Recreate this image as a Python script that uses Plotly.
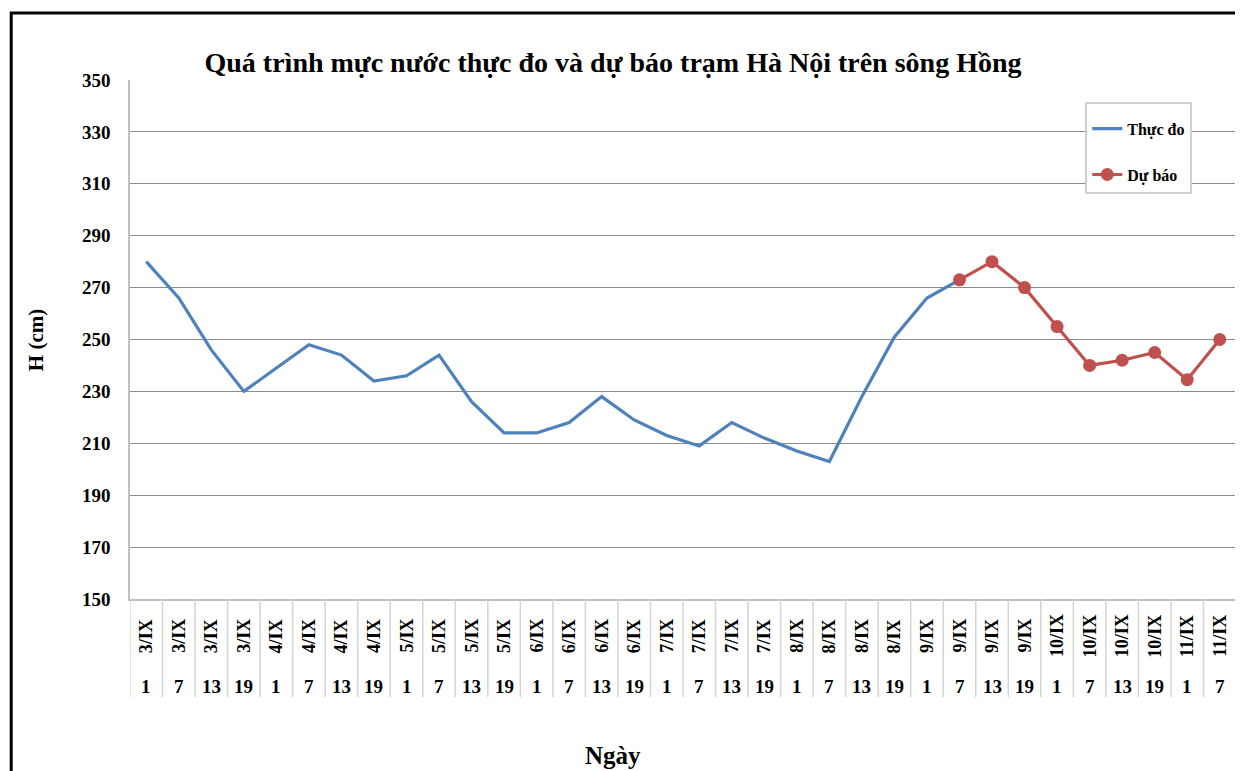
import plotly.graph_objects as go

dates = (["3/IX"] * 4 + ["4/IX"] * 4 + ["5/IX"] * 4 + ["6/IX"] * 4 + ["7/IX"] * 4
         + ["8/IX"] * 4 + ["9/IX"] * 4 + ["10/IX"] * 4 + ["11/IX"] * 2)
hours = ["1", "7", "13", "19"] * 8 + ["1", "7"]

observed = [280, 266, 246, 230, 239, 248, 244, 234, 236, 244, 226, 214, 214, 218,
            228, 219, 213, 209, 218, 212, 207, 203, 228, 251, 266, 273]
forecast_start = 25
forecast = [273, 280, 270, 255, 240, 242, 245, 234.5, 250]

OFF = 8  # page body margin
W, H = 1243 - OFF, 771 - OFF
L, R, T, B = 130 - OFF, 1238 - OFF, 80 - OFF, 599 - OFF
pw, ph = R - L, B - T

def py(p):
    """reference screenshot pixel row -> paper y"""
    return (B - (p - OFF)) / ph

def px(p):
    """reference screenshot pixel column -> paper x"""
    return ((p - OFF) - L) / pw

FONT = "Liberation Serif"
n = len(dates)
x_obs = list(range(len(observed)))
x_fc = list(range(forecast_start, forecast_start + len(forecast)))

fig = go.Figure()
fig.add_trace(go.Scatter(x=x_obs, y=observed, mode="lines", name="Thực đo",
                         line=dict(color="#4F81BD", width=3.2), legendgroup="a"))
fig.add_trace(go.Scatter(x=x_fc, y=forecast, mode="lines+markers", name="Dự báo",
                         line=dict(color="#C0504D", width=3.2),
                         marker=dict(size=13, color="#C0504D"), legendgroup="b"))

annotations = []
shapes = []
for i in range(n):
    annotations.append(dict(x=i, y=py(636), xref="x", yref="paper", text=dates[i],
                            textangle=-90, showarrow=False,
                            xanchor="center", yanchor="middle",
                            font=dict(family=FONT, size=18, color="black", weight="bold")))
    annotations.append(dict(x=i, y=py(686), xref="x", yref="paper", text=hours[i],
                            showarrow=False, xanchor="center", yanchor="middle",
                            font=dict(family=FONT, size=19, color="black", weight="bold")))
for i in range(n + 1):
    shapes.append(dict(type="line", xref="x", yref="paper", x0=i - 0.5, x1=i - 0.5,
                       y0=0, y1=py(697), line=dict(color="#d4d4d4", width=1.5)))

annotations.append(dict(x=px(36), y=py(340), xref="paper", yref="paper", text="H (cm)",
                        textangle=-90, showarrow=False, xanchor="center", yanchor="middle",
                        font=dict(family=FONT, size=21, color="black", weight="bold")))
annotations.append(dict(x=px(614), y=py(755), xref="paper", yref="paper", text="Ngày",
                        showarrow=False, xanchor="center", yanchor="middle",
                        font=dict(family=FONT, size=25, color="black", weight="bold")))

# outer chart frame
shapes.append(dict(type="rect", xref="paper", yref="paper", x0=px(11), x1=px(1300),
                   y0=py(13), y1=py(830), line=dict(color="black", width=3)))

fig.update_layout(
    width=W, height=H,
    margin=dict(l=L, r=W - R, t=T, b=H - B),
    paper_bgcolor="white", plot_bgcolor="white",
    title=dict(text="Quá trình mực nước thực đo và dự báo trạm Hà Nội trên sông Hồng",
               x=(613 - OFF) / W, xanchor="center", y=1 - (62 - OFF) / H, yanchor="middle",
               font=dict(family=FONT, size=28, color="black", weight="bold")),
    xaxis=dict(range=[-0.5, n - 0.5], showticklabels=False, showgrid=False,
               zeroline=False, showline=True, linecolor="#bfbfbf", linewidth=1.5,
               mirror=False, ticks=""),
    yaxis=dict(range=[150, 350], dtick=20, tick0=150, showgrid=True,
               gridcolor="#8c8c8c", gridwidth=1, zeroline=False,
               showline=True, linecolor="#bfbfbf", linewidth=1.5, mirror=True,
               ticks="", ticklabelstandoff=14,
               tickfont=dict(family=FONT, size=19, color="black", weight="bold")),
    legend=dict(x=px(1087), y=py(102), xanchor="left", yanchor="top",
                bordercolor="#d0d0d0", borderwidth=2, bgcolor="white",
                tracegroupgap=22, itemwidth=30,
                title=dict(text=" ", font=dict(size=6)),
                font=dict(family=FONT, size=16, color="black", weight="bold")),
    annotations=annotations, shapes=shapes,
)
fig.write_html("out.html")
